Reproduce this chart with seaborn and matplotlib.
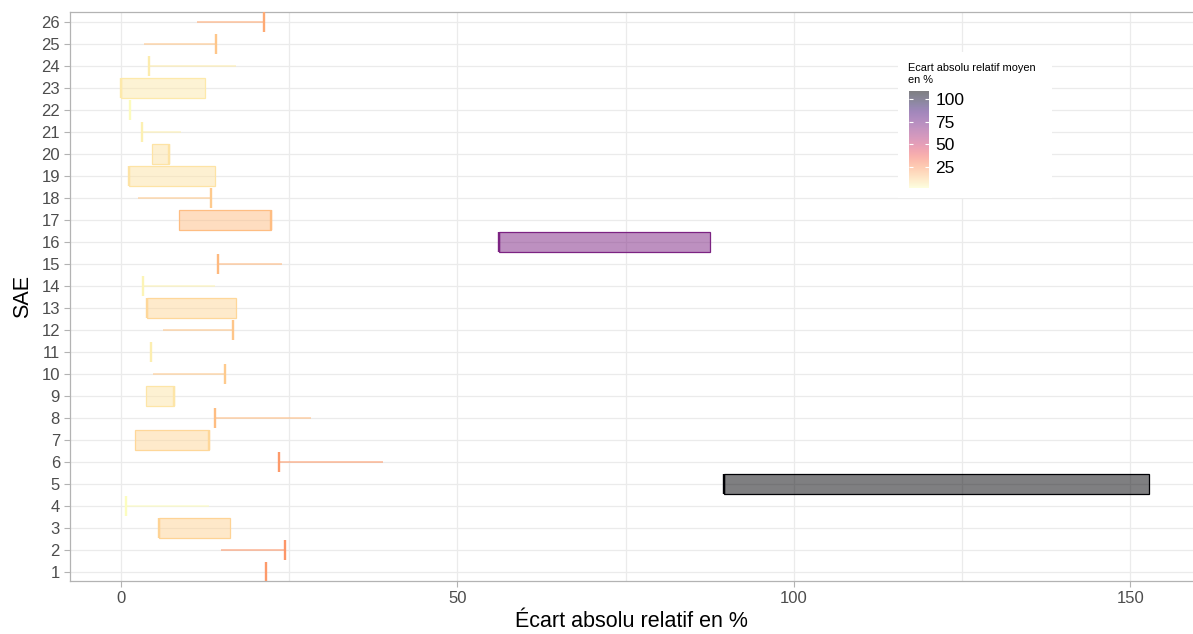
import numpy as np
import pandas as pd
import matplotlib
matplotlib.use("Agg")
import matplotlib.pyplot as plt
import seaborn as sns
from matplotlib.colors import Normalize

# ---------------- data ----------------
sae = list(range(1, 27))
# value at the marked (thick) end
tick_val = [21.6, 24.3, 5.6, 0.7, 89.6, 23.5, 13.1, 13.9, 7.9, 15.4, 4.4, 16.7, 3.9,
            3.2, 14.4, 56.2, 22.3, 13.4, 1.2, 7.1, 3.1, 1.4, 0.0, 4.2, 14.1, 21.2]
# value at the other end
other_val = [21.6, 14.8, 16.2, 13.1, 152.8, 39.0, 2.1, 28.2, 3.7, 4.8, 4.4, 6.2, 17.1,
             13.9, 23.9, 87.6, 8.6, 2.6, 13.9, 4.6, 8.9, 1.4, 12.5, 17.1, 3.4, 11.3]
is_box = [False, False, True, False, True, False, True, False, True, False, False, False, True,
          False, False, True, True, False, True, True, False, False, True, False, False, False]
mean_err = [24, 25, 11, 1, 109, 24, 10, 16, 6.5, 13, 4.5, 14, 10,
            3.5, 17, 70, 16, 13, 7, 7, 4, 1.5, 6, 5, 14, 20]

df = pd.DataFrame({"sae": sae, "tick": tick_val, "other": other_val,
                   "box": is_box, "err": mean_err})
df["lo"] = df[["tick", "other"]].min(axis=1)
df["hi"] = df[["tick", "other"]].max(axis=1)

# ---------------- style ----------------
sns.set_theme(style="whitegrid")
plt.rcParams["font.family"] = ["Liberation Sans", "DejaVu Sans"]

W, H = 1193, 634
fig = plt.figure(figsize=(W / 100, H / 100), dpi=100)
ax = fig.add_axes([69.7 / W, 1 - 581 / H, (W - 69.7) / W, (581 - 12.3) / H])

cmap = sns.color_palette("magma_r", as_cmap=True)
norm = Normalize(vmin=min(mean_err), vmax=max(mean_err))
cols = [cmap(norm(v)) for v in df["err"]]
df["col"] = cols

boxes = df[df["box"]]
lines = df[~df["box"]]

# boxes
fills = [(c[0], c[1], c[2], 0.5) for c in boxes["col"]]
ax.barh(boxes["sae"], boxes["hi"] - boxes["lo"], left=boxes["lo"], height=0.9,
        color=fills, edgecolor=list(boxes["col"]), linewidth=0.9, zorder=3)
# horizontal lines
ax.hlines(lines["sae"], lines["lo"], lines["hi"], colors=list(lines["col"]),
          linewidth=1.1, alpha=0.7, zorder=3)
# thick ends
ax.vlines(df["tick"], df["sae"] - 0.45, df["sae"] + 0.45, colors=list(df["col"]),
          linewidth=1.7, zorder=4)

# axes
ax.set_xlim(-7.62, 159.3)
ax.set_ylim(0.577, 26.43)
ax.set_yticks(sae)
ax.set_yticklabels([str(s) for s in sae])
ax.set_xticks([0, 50, 100, 150])
ax.set_xticks([25, 75, 125], minor=True)
ax.grid(which="both", color="#EBEBEB", linewidth=0.9)
ax.set_axisbelow(True)
ax.set_facecolor("white")
for s in ["left", "top", "bottom"]:
    ax.spines[s].set_visible(True)
    ax.spines[s].set_color("#B3B3B3")
    ax.spines[s].set_linewidth(0.9)
ax.spines["right"].set_visible(False)
ax.tick_params(which="major", axis="both", length=4, width=0.8, color="#B3B3B3",
               labelsize=12, labelcolor="#4D4D4D", pad=3, left=True, bottom=True)
ax.tick_params(which="minor", length=0)
ax.set_xlabel("Écart absolu relatif en %", fontsize=15.5, color="black", labelpad=4)
ax.set_ylabel("SAE", fontsize=15.5, color="black", labelpad=6)

# ---------------- legend ----------------
bg = fig.add_axes([898 / W, 1 - 198 / H, 154 / W, 146 / H])
bg.set_facecolor("white")
bg.set_xticks([])
bg.set_yticks([])
for s in bg.spines.values():
    s.set_visible(False)
bg.grid(False)

fig.text(908 / W, 1 - 63 / H, "Ecart absolu relatif moyen\nen %", fontsize=7.9,
         va="top", ha="left", color="black", linespacing=1.3)

cax = fig.add_axes([909 / W, 1 - 188.3 / H, 20 / W, 97.3 / H])
vmin, vmax = norm.vmin, norm.vmax
grad = np.linspace(vmin, vmax, 300).reshape(-1, 1)
cax.imshow(grad, cmap=cmap, norm=norm, alpha=0.5, aspect="auto", origin="lower",
           extent=[0, 1, vmin, vmax])
cax.set_xlim(0, 1)
cax.set_ylim(vmin, vmax)
cbt = [25, 50, 75, 100]
cax.hlines(cbt, 0, 0.2, colors="white", linewidth=0.8)
cax.hlines(cbt, 0.8, 1, colors="white", linewidth=0.8)
cax.grid(False)
cax.set_xticks([])
cax.yaxis.tick_right()
cax.set_yticks(cbt)
cax.set_yticklabels([str(t) for t in cbt])
cax.tick_params(axis="y", length=0, pad=4.5, labelsize=12.5, labelcolor="black",
                right=True, left=False)
for s in cax.spines.values():
    s.set_visible(False)

fig.savefig("out.png", dpi=100)
